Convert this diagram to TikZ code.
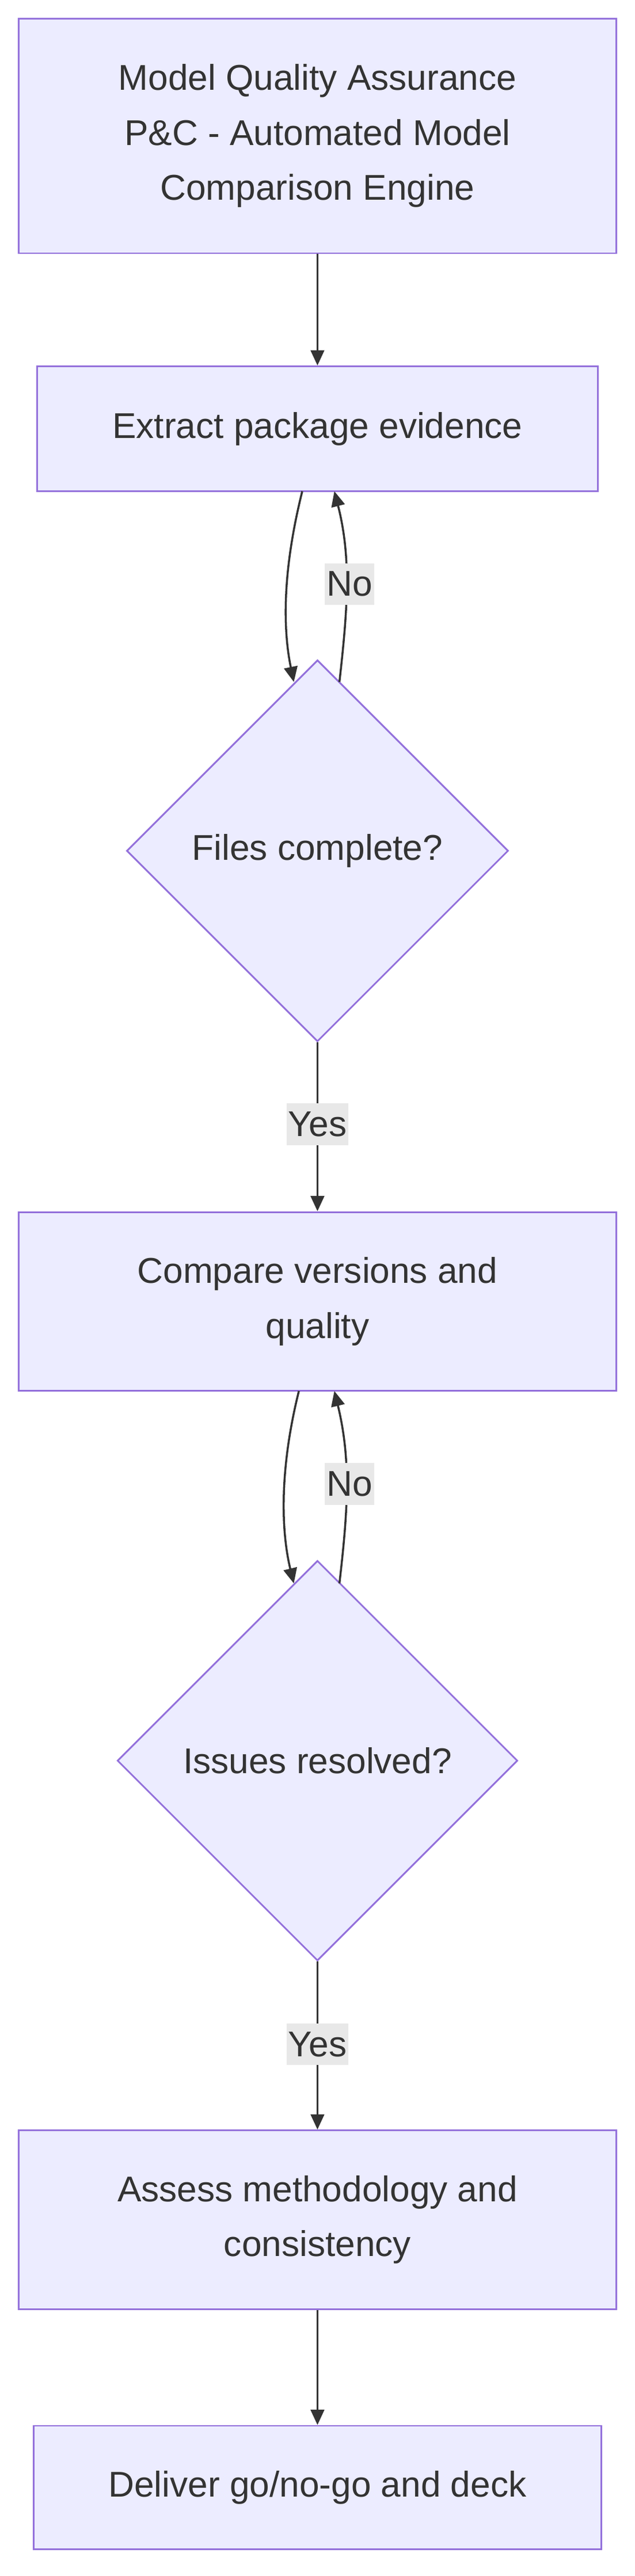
\documentclass[tikz,border=0pt]{standalone}
\usepackage{fontspec}
\setmainfont{Liberation Sans}
\usetikzlibrary{shapes.geometric,arrows.meta}
\definecolor{boxfill}{HTML}{ECECFF}
\definecolor{boxline}{HTML}{9370DB}
\definecolor{ink}{HTML}{333333}
\definecolor{lblbg}{HTML}{E8E8E8}

\begin{document}
\begin{tikzpicture}[x=1pt,y=-1pt,
  proc/.style={draw=boxline, fill=boxfill, line width=1pt, text=ink, align=center,
    font=\fontsize{21.2}{32.5}\selectfont},
  decide/.style={diamond, draw=boxline, fill=boxfill, line width=1pt, text=ink,
    font=\fontsize{21.2}{24}\selectfont, inner sep=0pt},
  flow/.style={draw=ink, line width=1.2pt, -{Triangle[length=9pt,width=8pt]}},
  lbl/.style={fill=lblbg, text=ink, font=\fontsize{21.2}{24}\selectfont, inner xsep=1pt, inner ysep=5pt}]
\useasboundingbox (0,0) rectangle (376,1526);

% boxes
\node [proc, minimum width=354pt, minimum height=139pt] (title) at (188,80.5)
  {Model Quality Assurance\\P\&C - Automated Model\\Comparison Engine};
\node [proc, minimum width=332pt, minimum height=74pt] (extract) at (188,254) {Extract package evidence};
\node [decide, minimum width=226pt, minimum height=226pt] (files) at (188,504) {Files complete?};
\node [proc, minimum width=354pt, minimum height=106pt] (compare) at (188,771) {Compare versions and\\quality};
\node [decide, minimum width=237pt, minimum height=237pt] (issues) at (188,1043) {Issues resolved?};
\node [proc, minimum width=354pt, minimum height=106pt] (assess) at (188,1315) {Assess methodology and\\consistency};
\node [proc, minimum width=336pt, minimum height=73pt] (deliver) at (188,1473.5) {Deliver go/no-go and deck};

% connectors
\draw [flow] (179,291) .. controls (168,335) and (167,370) .. (174,404);
\draw [flow] (title) -- (extract);
\draw [flow] (201,404) .. controls (206,360) and (208,330) .. (198,291);
\node [lbl] (no1) at (207,346) {No};
\draw [flow] (files.south) -- (compare.north);
\node [lbl] (yes1) at (188,666) {Yes};
\draw [flow] (177,824) .. controls (166,868) and (166,905) .. (174,938);
\draw [flow] (201,938) .. controls (206,895) and (208,865) .. (198,824);
\node [lbl] (no2) at (207,879) {No};
\draw [flow] (issues.south) -- (assess.north);
\node [lbl] (yes2) at (188,1211) {Yes};
\draw [flow] (assess) -- (deliver);
\end{tikzpicture}
\end{document}
